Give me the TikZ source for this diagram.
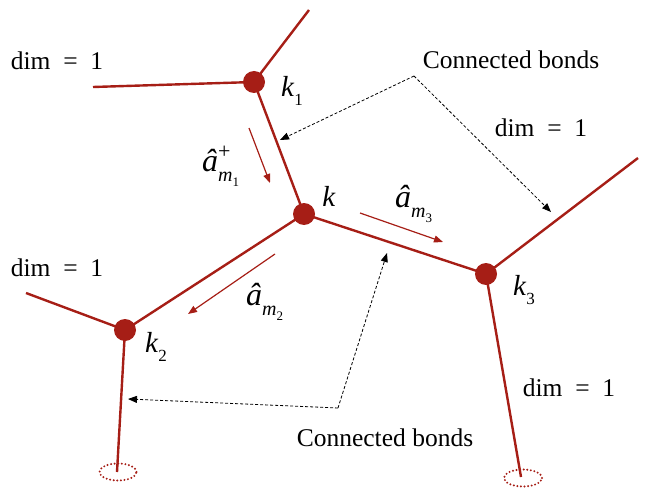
\documentclass[tikz,border=0pt]{standalone}
\usepackage{fontspec}
\setmainfont{Liberation Serif}
\newfontfamily\tms{Liberation Serif}
\usetikzlibrary{arrows.meta,shapes.geometric}
\definecolor{bond}{HTML}{A61E16}
\newcommand{\subx}[1]{\raisebox{-0.3em}{\fontsize{17}{17}\selectfont #1}}
\newcommand{\kk}[1]{\textit{k}\subx{#1}}
\newcommand{\msub}[1]{\raisebox{-0.35em}{\fontsize{20}{20}\selectfont\textit{m}\raisebox{-0.25em}{\fontsize{13}{13}\selectfont #1}}}
\newcommand{\ahat}{{\fontsize{32}{32}\selectfont\textit{â}}}
\newcommand{\opa}[1]{\ahat\msub{#1}}
\newcommand{\opap}[1]{\ahat\makebox[0pt][l]{\raisebox{0.45em}{\fontsize{22}{22}\selectfont +}}\msub{#1}}
\begin{document}
\begin{tikzpicture}[x=1pt,y=-1pt,
  dot/.style={circle,fill=bond,inner sep=0pt,minimum size=22pt},
  bondline/.style={draw=bond,line width=2.4pt},
  oparrow/.style={draw=bond,line width=1.2pt,-{Triangle[length=9pt,width=7pt]}},
  conn/.style={draw=black,line width=0.8pt,dash pattern=on 3pt off 2pt,-{Triangle[length=9pt,width=7pt]}},
  lab/.style={font=\tms\fontsize{25.5}{27}\selectfont,inner sep=0pt},
  klab/.style={font=\tms\fontsize{29}{30}\selectfont,inner sep=0pt},
  endring/.style={draw=bond,line width=2.2pt,dash pattern=on 0pt off 3.6pt,line cap=round,ellipse,inner sep=0pt,minimum height=17pt}]
\useasboundingbox (0,0) rectangle (650,489);
% free ends
\coordinate (e1a) at (309,10);
\coordinate (e1b) at (93,87);
\coordinate (e2a) at (26,293);
\coordinate (e2b) at (117,472);
\coordinate (e3a) at (638,158);
\coordinate (e3b) at (521,477);
% bonds
\path[bondline] (e1a) -- (254,82) -- (e1b);
\path[bondline] (254,82) -- (304,214) -- (125,330);
\path[bondline] (304,214) -- (486,274) -- (e3a);
\path[bondline] (e2a) -- (125,330) -- (e2b);
\path[bondline] (486,274) -- (e3b);
% nodes
\node[dot] (k1) at (254,82) {};
\node[dot] (k) at (304,214) {};
\node[dot] (k2) at (125,330) {};
\node[dot] (k3) at (486,274) {};
\node[endring,minimum width=37pt] (r2) at (118,472) {};
\node[endring,minimum width=38pt] (r3) at (523,478) {};
% node labels
\node[klab] (lk1) at (292,91) {\kk{1}};
\node[klab] (lk) at (329,196) {\textit{k}};
\node[klab] (lk2) at (156,347) {\kk{2}};
\node[klab] (lk3) at (524,290) {\kk{3}};
% operator arrows
\coordinate (o1s) at (249,128);
\coordinate (o1e) at (270,183);
\path[oparrow] (o1s) -- (o1e);
\coordinate (o3s) at (360,213);
\coordinate (o3e) at (443,242);
\path[oparrow] (o3s) -- (o3e);
\coordinate (o2s) at (275,254);
\coordinate (o2e) at (188,314);
\path[oparrow] (o2s) -- (o2e);
\node[klab,anchor=west] (la1) at (202,166) {\opap{1}};
\node[klab,anchor=west] (la3) at (395,204) {\opa{3}};
\node[klab,anchor=west] (la2) at (246,302) {\opa{2}};
% texts
\node[lab] (d1) at (57,61) {dim \ = \ 1};
\node[lab] (d2) at (541,128) {dim \ = \ 1};
\node[lab] (d3) at (57,268) {dim \ = \ 1};
\node[lab] (d4) at (569,388) {dim \ = \ 1};
\node[lab] (cb1) at (511,60) {Connected bonds};
\node[lab] (cb2) at (385,438) {Connected bonds};
% connector pointers
\coordinate (c1) at (414,76);
\coordinate (t1) at (280,140);
\coordinate (t2) at (551,212);
\path[conn] (c1) -- (t1);
\path[conn] (c1) -- (t2);
\coordinate (c2) at (338,408);
\coordinate (t3) at (128,399);
\coordinate (t4) at (387,253);
\path[conn] (c2) -- (t3);
\path[conn] (c2) -- (t4);
\end{tikzpicture}
\end{document}
